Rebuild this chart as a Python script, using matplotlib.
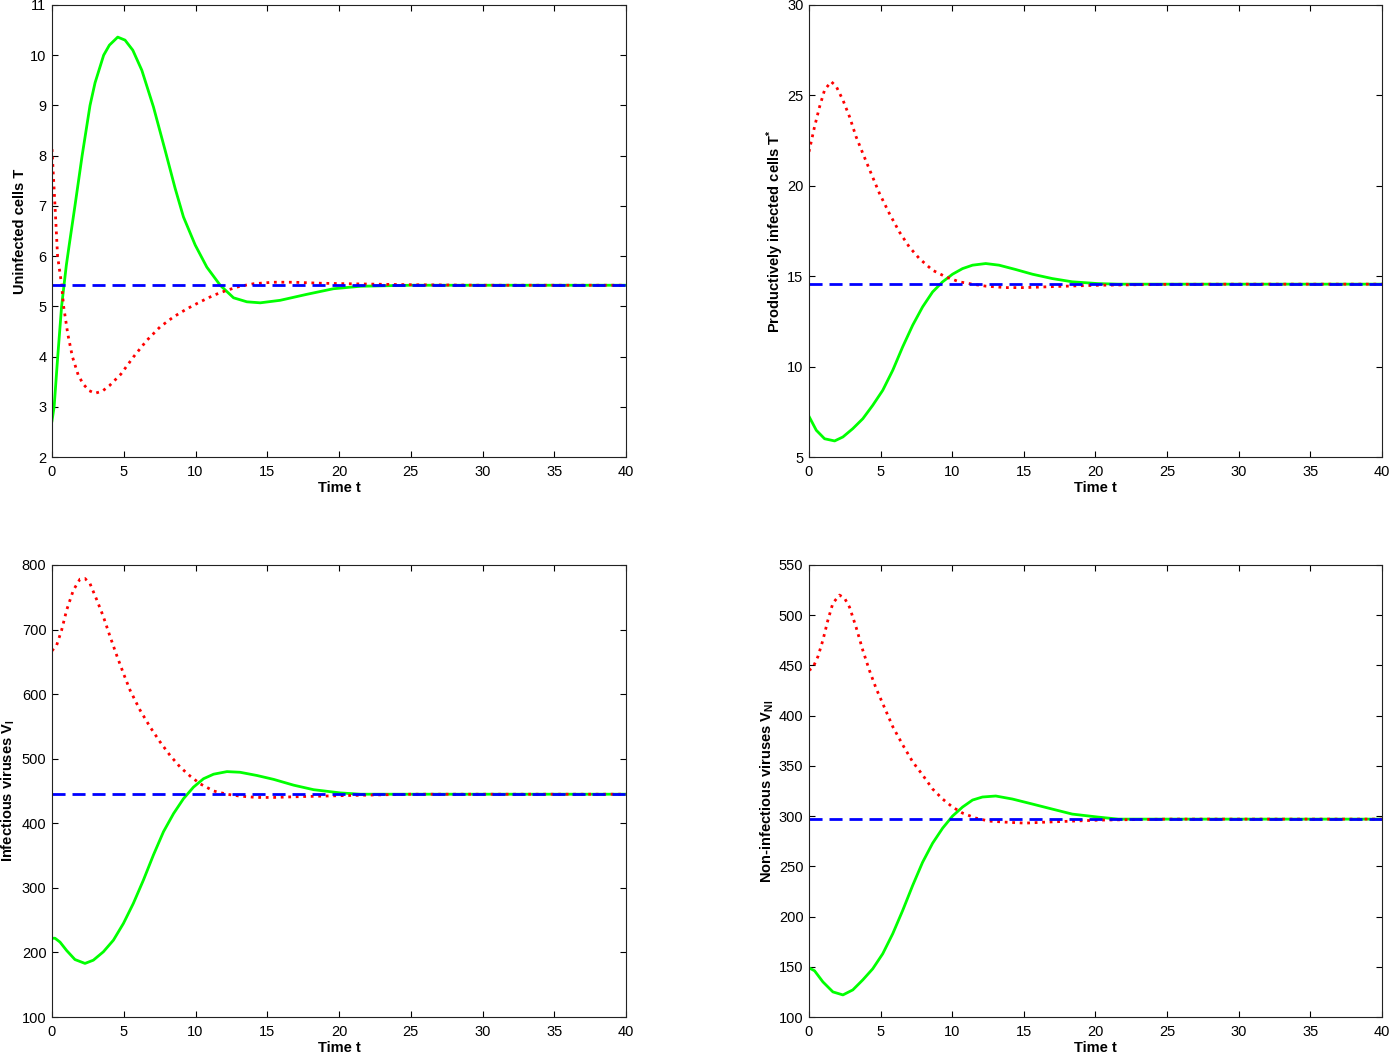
import matplotlib
matplotlib.use("Agg")
import matplotlib.pyplot as plt

plt.rcParams['font.family'] = ['Liberation Sans', 'DejaVu Sans']
plt.rcParams['mathtext.fontset'] = 'custom'
plt.rcParams['mathtext.rm'] = 'Liberation Sans:bold'
plt.rcParams['mathtext.bf'] = 'Liberation Sans:bold'
plt.rcParams['mathtext.it'] = 'Liberation Sans:bold'

# ---------------- Data ----------------
# Panel 1: uninfected cells T
t1_green = [0, 0.15, 0.4, 0.67, 0.85, 1.0, 1.2, 1.6, 2.1, 2.65, 3.0, 3.6, 4.0, 4.58, 5.09, 5.63, 6.26,
            7.07, 7.88, 8.58, 9.16, 9.98, 10.79, 11.72, 12.65, 13.58, 14.51, 15.9, 17.77, 19.6, 21.5,
            25, 30, 35, 40]
T_green = [2.72, 3.0, 4.0, 5.0, 5.45, 5.82, 6.22, 7.0, 8.0, 9.0, 9.45, 10.0, 10.2, 10.36, 10.30, 10.10,
           9.70, 8.97, 8.11, 7.35, 6.78, 6.22, 5.78, 5.42, 5.17, 5.09, 5.07, 5.12, 5.24, 5.35, 5.40,
           5.42, 5.42, 5.42, 5.42]
t1_red = [0, 0.21, 0.39, 0.67, 0.81, 1.1, 1.42, 1.83, 2.18, 2.6, 3.0, 3.5, 4.0, 4.8, 5.67, 6.6, 7.53,
          8.47, 9.4, 10.33, 11.26, 12.19, 13.1, 14.05, 15.4, 16.8, 18.7, 20.6, 25, 30, 35, 40]
T_red = [8.13, 7.0, 6.0, 5.43, 5.0, 4.45, 4.0, 3.63, 3.45, 3.32, 3.27, 3.31, 3.42, 3.65, 3.99, 4.32, 4.59,
         4.79, 4.95, 5.09, 5.22, 5.32, 5.40, 5.45, 5.48, 5.48, 5.46, 5.45, 5.43, 5.42, 5.42, 5.42]
T_eq = 5.42

# Panel 2: productively infected cells T*
t2_red = [0, 0.39, 0.74, 1.09, 1.55, 1.9, 2.37, 2.83, 3.29, 3.76, 4.34, 4.92, 5.61, 6.31, 7.0, 7.7,
          8.63, 9.56, 10.49, 11.4, 12.34, 13.74, 15.1, 16.5, 18.4, 20.2, 25, 30, 35, 40]
Ts_red = [21.88, 23.27, 24.37, 25.3, 25.76, 25.5, 24.74, 23.82, 22.71, 21.79, 20.68, 19.58, 18.47, 17.45,
          16.62, 15.98, 15.33, 14.96, 14.69, 14.56, 14.45, 14.37, 14.37, 14.41, 14.46, 14.50, 14.55, 14.56,
          14.56, 14.56]
t2_green = [0, 0.51, 1.09, 1.79, 2.37, 3.06, 3.76, 4.45, 5.15, 5.85, 6.54, 7.24, 7.93, 8.63, 9.33,
            10.02, 10.72, 11.42, 12.34, 13.27, 14.43, 15.6, 16.98, 18.38, 20.2, 21.6, 25, 30, 35, 40]
Ts_green = [7.25, 6.48, 6.01, 5.89, 6.11, 6.57, 7.12, 7.86, 8.69, 9.80, 11.09, 12.29, 13.30, 14.13, 14.69,
            15.11, 15.42, 15.61, 15.70, 15.61, 15.37, 15.11, 14.87, 14.69, 14.59, 14.56, 14.56, 14.56,
            14.56, 14.56]
Ts_eq = 14.56

# Panel 3: infectious viruses V_I
t3_red = [0, 0.33, 0.67, 1.02, 1.49, 1.95, 2.3, 2.65, 3.12, 3.58, 4.05, 4.51, 4.98, 5.44, 6.14, 6.84,
          7.53, 8.23, 8.93, 9.63, 10.33, 11.26, 12.19, 13.1, 14.28, 15.44, 16.84, 18.7, 20.6, 25, 30, 35, 40]
VI_red = [667, 676, 699, 730, 761, 778, 779, 771, 746, 720, 689, 660, 632, 606, 575, 549,
          526, 505, 487, 473, 461, 450, 445, 442, 440, 440, 441, 442, 443, 445, 445, 445, 445]
t3_green = [0, 0.21, 0.56, 1.02, 1.6, 2.3, 2.88, 3.58, 4.28, 4.98, 5.67, 6.37, 7.07, 7.77, 8.47, 9.16,
            9.86, 10.56, 11.26, 12.19, 13.1, 14.28, 15.44, 16.84, 18.23, 20.1, 21.5, 25, 30, 35, 40]
VI_green = [222, 222, 216, 203, 189, 183, 188, 201, 219, 245, 276, 312, 351, 387, 415, 438,
            456, 469, 476, 480, 479, 474, 468, 459, 452, 447, 445, 445, 445, 445, 445]
VI_eq = 445

# Panel 4: non-infectious viruses V_NI
t4_red = [0, 0.28, 0.63, 0.97, 1.32, 1.67, 2.13, 2.48, 2.83, 3.29, 3.76, 4.22, 4.69, 5.15, 5.85, 6.54,
          7.24, 7.93, 8.63, 9.33, 10.02, 10.72, 11.65, 12.58, 13.7, 15.1, 16.5, 18.4, 20.2, 25, 30, 35, 40]
VNI_red = [445, 448, 459, 475, 495, 512, 520, 517, 508, 488, 465, 445, 427, 412, 389, 371,
           354, 341, 327, 317, 309, 303, 298, 295, 294, 293, 294, 295, 296, 297, 297, 297, 297]
t4_green = [0, 0.39, 0.97, 1.67, 2.37, 3.06, 3.76, 4.45, 5.15, 5.85, 6.54, 7.24, 7.93, 8.63, 9.33,
            10.02, 10.72, 11.42, 12.11, 13.04, 14.2, 15.6, 16.98, 18.38, 20.2, 21.6, 25, 30, 35, 40]
VNI_green = [149, 146, 135, 125, 122, 127, 137, 148, 163, 183, 206, 231, 254, 273, 288,
             300, 309, 316, 319, 320, 317, 312, 307, 302, 299, 297, 297, 297, 297, 297]
VNI_eq = 297

x_ticks = [0, 5, 10, 15, 20, 25, 30, 35, 40]

panels = [
    dict(tg=t1_green, yg=T_green, tr=t1_red, yr=T_red, eq=T_eq, ylim=(2, 11),
         yticks=list(range(2, 12)), ylabel='Uninfected cells T', lpad=2),
    dict(tg=t2_green, yg=Ts_green, tr=t2_red, yr=Ts_red, eq=Ts_eq, ylim=(5, 30),
         yticks=[5, 10, 15, 20, 25, 30], ylabel=r'Productively infected cells T$^{*}$', lpad=0.5),
    dict(tg=t3_green, yg=VI_green, tr=t3_red, yr=VI_red, eq=VI_eq, ylim=(100, 800),
         yticks=list(range(100, 801, 100)), ylabel=r'Infectious viruses V$_{\mathrm{I}}$', lpad=3.5),
    dict(tg=t4_green, yg=VNI_green, tr=t4_red, yr=VNI_red, eq=VNI_eq, ylim=(100, 550),
         yticks=list(range(100, 551, 50)), ylabel=r'Non-infectious viruses V$_{\mathrm{NI}}$', lpad=2),
]

fig = plt.figure(figsize=(13.9, 10.55), dpi=100)
positions = [
    [0.0374, 0.5668, 0.4130, 0.4285],
    [0.5820, 0.5668, 0.4122, 0.4285],
    [0.0374, 0.0360, 0.4130, 0.4285],
    [0.5820, 0.0360, 0.4122, 0.4285],
]

for pos, p in zip(positions, panels):
    ax = fig.add_axes(pos)
    ax.plot(p['tg'], p['yg'], color='#00ff00', lw=2.0, solid_joinstyle='round')
    ax.plot(p['tr'], p['yr'], color='#ff0000', lw=2.0, linestyle=(0, (1, 1.7)))
    ax.plot([0, 40], [p['eq'], p['eq']], color='#0000ff', lw=2.0, linestyle=(0, (4.7, 2.5)))
    ax.set_xlim(0, 40)
    ax.set_ylim(*p['ylim'])
    ax.set_xticks(x_ticks)
    ax.set_yticks(p['yticks'])
    ax.tick_params(direction='in', top=True, right=True, length=4, width=0.8,
                   labelsize=10.5, colors='black')
    ax.tick_params(axis='x', pad=5.5)
    ax.tick_params(axis='y', pad=4)
    for s in ax.spines.values():
        s.set_linewidth(0.8)
        s.set_color('#222222')
    ax.set_xlabel('Time t', fontsize=10.5, fontweight='bold', labelpad=2)
    ax.set_ylabel(p['ylabel'], fontsize=10.5, fontweight='bold', labelpad=p['lpad'])

fig.savefig('out.png', dpi=100)
